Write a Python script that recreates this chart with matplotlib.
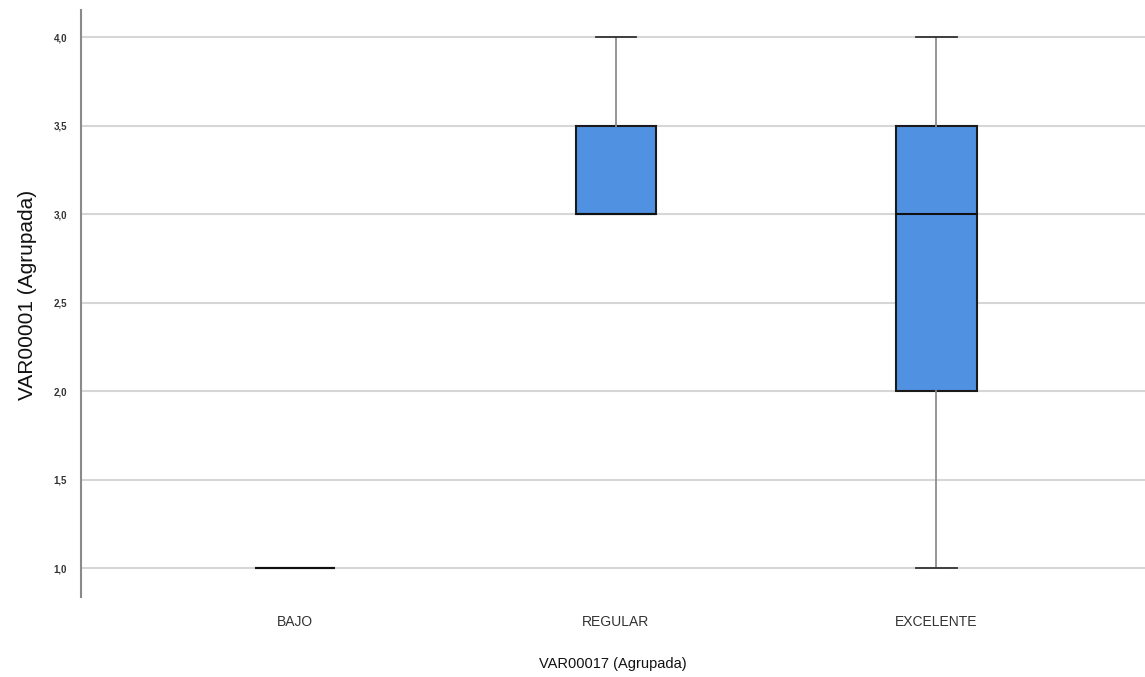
import matplotlib
matplotlib.use("Agg")
import matplotlib.pyplot as plt

# box statistics
categories = ["BAJO", "REGULAR", "EXCELENTE"]
whislo = [1.0, 3.0, 1.0]
q1 = [1.0, 3.0, 2.0]
med = [1.0, 3.0, 3.0]
q3 = [1.0, 3.5, 3.5]
whishi = [1.0, 4.0, 4.0]
yticks = [1.0, 1.5, 2.0, 2.5, 3.0, 3.5, 4.0]

plt.rcParams['font.family'] = ['Liberation Sans', 'DejaVu Sans']

fig = plt.figure(figsize=(11.45, 6.77), dpi=100)
ax = fig.add_axes([0.0707, 0.118, 0.9293, 0.867])

stats = []
for i, c in enumerate(categories):
    stats.append(dict(label=c, whislo=whislo[i], q1=q1[i], med=med[i],
                      q3=q3[i], whishi=whishi[i], fliers=[]))

ax.bxp(stats, positions=range(len(categories)), widths=0.25,
       patch_artist=True, showfliers=False,
       boxprops=dict(facecolor="#5191e2", edgecolor="#1a1a1a", linewidth=1.5),
       medianprops=dict(color="#111111", linewidth=1.5),
       whiskerprops=dict(color="#8c8c8c", linewidth=1.3),
       capprops=dict(color="#333333", linewidth=1.3),
       capwidths=0.125, zorder=3)

ax.set_xlim(-0.667, 2.65)
ax.set_ylim(0.836, 4.153)
ax.set_yticks(yticks)
ax.set_yticklabels([f"{v:.1f}".replace(".", ",") for v in yticks], fontsize=7,
                   color="#333333", fontweight="bold")
ax.set_xticks(range(len(categories)))
ax.set_xticklabels(categories, fontsize=10, color="#333333")
ax.tick_params(axis="both", length=0)
ax.tick_params(axis="x", pad=13)
ax.tick_params(axis="y", pad=10)

ax.grid(axis="y", color="#d6d6d6", linewidth=1.5, zorder=0)
ax.set_axisbelow(True)
for s in ["top", "right", "bottom"]:
    ax.spines[s].set_visible(False)
ax.spines["left"].set_color("#8a8a8a")
ax.spines["left"].set_linewidth(1.5)

ax.set_xlabel("VAR00017 (Agrupada)", fontsize=10.5, color="#111111", labelpad=20)
ax.set_ylabel("VAR00001 (Agrupada)", fontsize=15, color="#111111")
ax.yaxis.set_label_coords(-0.041, 0.514)

fig.savefig("out.png", dpi=100)
